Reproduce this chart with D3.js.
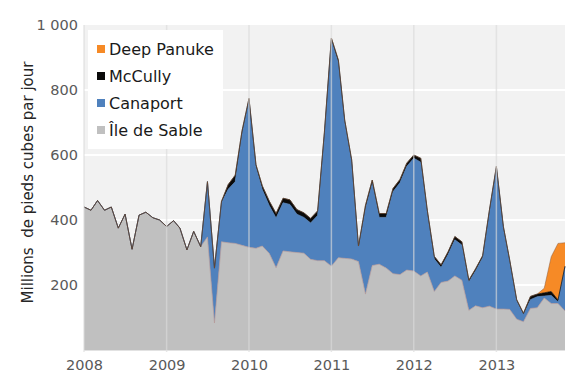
<!DOCTYPE html>
<html><head><meta charset="utf-8">
<script src="https://cdn.jsdelivr.net/npm/d3@7"></script>
<style>body{margin:0;background:#fff}svg{display:block}</style>
</head><body>
<svg id="c" width="580" height="392"></svg>
<script>
// Monthly data, January 2008 – November 2013 (71 months)
const startMonth = "2008-01";
const ileDeSable = [440,430,460,430,440,375,418,310,415,424,407,400,
  380,398,375,308,365,318,348,83,333,330,328,322,
  316,313,320,297,253,305,302,300,298,279,275,275,
  258,284,282,280,272,172,260,264,252,235,232,246,
  243,228,240,180,208,212,228,215,122,136,130,135,
  126,126,125,95,87,128,130,160,143,143,120];
const canaport = [0,0,0,0,0,0,0,0,0,0,0,0,
  0,0,0,0,0,0,170,169,120,165,190,342,
  453,249,173,147,153,148,146,118,110,112,139,387,
  694,600,418,297,42,263,253,144,156,252,283,319,
  347,350,182,100,46,82,111,108,87,108,154,289,
  434,249,147,55,22,27,34,6,25,5,136];
const mcCully = [0,0,0,0,0,0,0,0,0,0,0,0,
  0,0,0,0,0,0,0,0,4,14,20,10,
  5,8,12,14,14,14,14,14,14,14,14,8,
  8,8,8,8,6,10,10,12,12,10,10,10,
  10,12,8,8,8,8,10,10,6,6,6,6,
  5,5,5,5,4,10,8,10,12,6,2];
const deepPanuke = [0,0,0,0,0,0,0,0,0,0,0,0,
  0,0,0,0,0,0,0,0,0,0,0,0,
  0,0,0,0,0,0,0,0,0,0,0,0,
  0,0,0,0,0,0,0,0,0,0,0,0,
  0,0,0,0,0,0,0,0,0,0,0,0,
  0,0,0,0,0,0,0,14,107,174,72];
const seriesNames = ["Île de Sable","Canaport","McCully","Deep Panuke"];
const seriesColors = ["#c0c0c0","#4f81bd","#0a0a0a","#f68a26"];
const yTicks = [200,400,600,800,1000];
const yTickLabels = ["200","400","600","800","1 000"];
const xTickYears = [2008,2009,2010,2011,2012,2013];
const yTitle = "Millions  de pieds cubes par jour";

const svg = d3.select("#c");
const L = 84, R = 565, T = 25, B = 350;
const font = "'DejaVu Sans', sans-serif";

const parse = d3.timeParse("%Y-%m");
const t0 = parse(startMonth);
const rows = ileDeSable.map((v,i)=>({
  date: d3.timeMonth.offset(t0,i),
  s0: v, s1: canaport[i], s2: mcCully[i], s3: deepPanuke[i]
}));
const x = d3.scaleTime().domain([rows[0].date, rows[rows.length-1].date]).range([L,R]);
const y = d3.scaleLinear().domain([0,1000]).range([B,T]);

// background
svg.append("rect").attr("x",L).attr("y",T).attr("width",R-L).attr("height",B-T).attr("fill","#f2f2f2");
// horizontal gridlines
svg.append("g").selectAll("line").data(yTicks.slice(0,-1)).join("line")
  .attr("x1",L).attr("x2",R).attr("y1",d=>y(d)).attr("y2",d=>y(d))
  .attr("stroke","#fff").attr("stroke-width",2);

const stack = d3.stack().keys(["s0","s1","s2","s3"]);
const layers = stack(rows);
const area = d3.area().x(d=>x(d.data.date)).y0(d=>y(d[0])).y1(d=>y(d[1]));
const topLine = d3.line().x(d=>x(d.data.date)).y(d=>y(d[1]));
svg.append("g").selectAll("path").data(layers).join("path")
  .attr("d",area).attr("fill",(d,i)=>seriesColors[i]);
svg.append("g").selectAll("path").data(layers).join("path")
  .attr("d",topLine).attr("fill","none")
  .attr("stroke",(d,i)=>i===0?"#b89a96":(i===3?"#8a5a3a":seriesColors[i]))
  .attr("stroke-width",(d,i)=>i===3?0.5:0.7);

// vertical gridlines (on top)
const years = xTickYears.map(yv=>new Date(yv,0,1));
svg.append("g").selectAll("line").data(years).join("line")
  .attr("x1",d=>x(d)).attr("x2",d=>x(d)).attr("y1",T).attr("y2",B+2)
  .attr("stroke","rgb(218,218,218)").attr("stroke-opacity",0.65).attr("stroke-width",1.5);
// baseline
svg.append("line").attr("x1",L).attr("x2",R).attr("y1",B+0.5).attr("y2",B+0.5)
  .attr("stroke","#e2e2e2").attr("stroke-width",1);

// axes
const yAxis = d3.axisLeft(y).tickValues(yTicks).tickSize(0).tickPadding(6)
  .tickFormat((d,i)=>yTickLabels[i]);
const gy = svg.append("g").attr("transform",`translate(${L},0)`).call(yAxis);
gy.select(".domain").remove();
gy.selectAll("text").attr("font-family",font).attr("font-size",14.5).attr("fill","#595959");

const xAxis = d3.axisBottom(x).tickValues(years).tickSize(0).tickPadding(10)
  .tickFormat(d3.timeFormat("%Y"));
const gx = svg.append("g").attr("transform",`translate(0,${B})`).call(xAxis);
gx.select(".domain").remove();
gx.selectAll("text").attr("font-family",font).attr("font-size",14.5).attr("fill","#595959");

// y title
svg.append("text").attr("transform",`translate(33,${(52+313)/2}) rotate(-90)`)
  .attr("text-anchor","middle").attr("font-family",font).attr("font-size",15)
  .attr("fill","#262626").style("white-space","pre").text(yTitle);

// legend
const lg = svg.append("g");
lg.append("rect").attr("x",88).attr("y",30).attr("width",135).attr("height",119).attr("fill","#fff");
const legendOrder = [3,2,1,0];
legendOrder.forEach((si,k)=>{
  const cy = 49 + k*27;
  lg.append("rect").attr("x",97).attr("y",cy-4).attr("width",8).attr("height",8).attr("fill",seriesColors[si]);
  lg.append("text").attr("x",109).attr("y",cy).attr("dy","0.36em")
    .attr("font-family",font).attr("font-size",16).attr("fill","#1a1a1a").text(seriesNames[si]);
});
</script>
</body></html>
